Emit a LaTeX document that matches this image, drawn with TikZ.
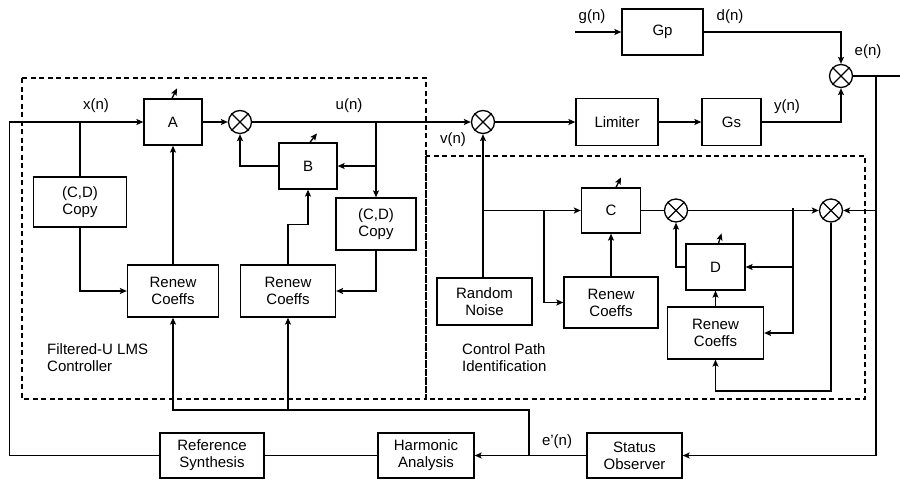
\documentclass[tikz,border=0pt]{standalone}
\usepackage{fontspec}
\setmainfont{Liberation Sans}
\usetikzlibrary{arrows.meta,calc}
\begin{document}
\begin{tikzpicture}[x=1pt,y=-1pt,
  every node/.style={font=\fontsize{15}{17}\selectfont},
  blk/.style={draw,line width=1.3pt,rectangle,align=center,inner sep=0pt},
  summ/.style={draw,line width=1.3pt,circle,minimum size=23pt,inner sep=0pt},
  wire/.style={line width=1.3pt},
  arr/.style={wire,-{Stealth[length=7pt,width=6pt,inset=1.5pt]}},
  dbox/.style={line width=1.6pt,dash pattern=on 5pt off 3.5pt},
  lbl/.style={inner sep=0pt}]
\useasboundingbox (0,0) rectangle (900,480);

% dashed regions
\draw[dbox] (22,78) rectangle (426,399);
\draw[dbox] (426,156) rectangle (865,399);

% blocks
\node[blk,minimum width=58pt,minimum height=46pt] (A) at (173,122) {A};
\node[blk,minimum width=58pt,minimum height=46pt] (B) at (308,166) {B};
\node[blk,minimum width=80pt,minimum height=52pt] (copyR) at (376,224) {(C,D)\\Copy};
\node[blk,minimum width=93pt,minimum height=50pt] (copyL) at (80,202) {(C,D)\\Copy};
\node[blk,minimum width=91pt,minimum height=52pt] (ren1) at (173,291) {Renew\\Coeffs};
\node[blk,minimum width=95pt,minimum height=52pt] (ren2) at (288,291) {Renew\\Coeffs};
\node[blk,minimum width=104pt,minimum height=45pt] (refsyn) at (212,455.5) {Reference\\Synthesis};
\node[blk,minimum width=96pt,minimum height=45pt] (harm) at (426,455.5) {Harmonic\\Analysis};
\node[blk,minimum width=95pt,minimum height=45pt] (status) at (634.5,455.5) {Status\\Observer};
\node[blk,minimum width=81pt,minimum height=46pt] (gp) at (662.5,32) {Gp};
\node[blk,minimum width=82pt,minimum height=47pt] (limiter) at (617,122) {Limiter};
\node[blk,minimum width=59pt,minimum height=47pt] (gs) at (731.5,122) {Gs};
\node[blk,minimum width=95pt,minimum height=47pt] (noise) at (484.5,301.5) {Random\\Noise};
\node[blk,minimum width=59pt,minimum height=45pt] (C) at (611,210.5) {C};
\node[blk,minimum width=94pt,minimum height=51pt] (ren3) at (611,302.5) {Renew\\Coeffs};
\node[blk,minimum width=59pt,minimum height=46pt] (D) at (715.5,267) {D};
\node[blk,minimum width=96pt,minimum height=52pt] (ren4) at (715.5,333) {Renew\\Coeffs};

% summing junctions
\node[summ] (s1) at (240,122) {};
\node[summ] (sv) at (483,122) {};
\node[summ] (se) at (841,76) {};
\node[summ] (s3) at (676,210.5) {};
\node[summ] (s4) at (831,210.5) {};
\foreach \s in {s1,sv,se,s3,s4}{
  \draw[wire] (\s.north east) -- (\s.south west) (\s.north west) -- (\s.south east);
}

% coordinates for branch points / free ends
\coordinate (ub) at (376,122);
\coordinate (fb) at (529,410);
\coordinate (eb) at (529,455.5);
\coordinate (gin) at (575,32);
\coordinate (eout) at (900,76);
\coordinate (er) at (876,76);
\coordinate (nb) at (483,210.5);
\coordinate (cb) at (544,210.5);
\coordinate (db) at (793,208);

% Filtered-U controller
\draw[arr] (refsyn.west) -- ++(-150,0) |- (A.west);
\draw[wire] (copyL.north) -- (copyL.north |- A.west);
\draw[arr] (copyL.south) |- (ren1.west);
\draw[arr] (ren1.north) -- (A.south);
\draw[arr] (A.east) -- (s1.west);
\draw[arr] (s1.east) -- (sv.west);
\draw[arr] (ub) -- (copyR.north);
\draw[arr] (ub |- B.east) -- (B.east);
\draw[arr] (B.west) -| (s1.south);
\draw[arr] (copyR.south) |- (ren2.east);
\draw[arr] (ren2.north) -- ++(0,-40) -| (B.south);
\draw[arr] (eb) -- (fb) -| (ren1.south);
\draw[arr] (ren2.south |- fb) -- (ren2.south);

% bottom chain
\draw[arr] (status.west) -- (harm.east);
\draw[wire] (harm.west) -- (refsyn.east);

% plant
\draw[arr] (gin) -- (gp.west);
\draw[arr] (gp.east) -| (se.north);
\draw[arr] (sv.east) -- (limiter.west);
\draw[arr] (limiter.east) -- (gs.west);
\draw[arr] (gs.east) -| (se.south);
\draw[wire] (se.east) -- (eout);
\draw[arr] (er) |- (status.east);
\draw[arr] (er |- s4.east) -- (s4.east);

% control path identification
\draw[arr] (sv.south |- noise.north) -- (sv.south);
\draw[arr] (nb) -- (C.west);
\draw[arr] (cb) |- (ren3.west);
\draw[arr] (ren3.north) -- (C.south);
\draw[wire] (C.east) -- (s3.west);
\draw[arr] (s3.east) -- (s4.west);
\draw[arr] (db |- D.east) -- (D.east);
\draw[arr] (db) |- (ren4.east);
\draw[arr] (D.west) -| (s3.south);
\draw[arr] (ren4.north) -- (D.south);
\draw[arr] (s4.south) |- (ren4.south |- 0,391) -- (ren4.south);

% adjustable arrows
\draw[arr] ([xshift=-1pt]A.north) -- ++(5,-10);
\draw[arr] ([xshift=2pt]B.north) -- ++(7,-9);
\draw[arr] ([xshift=5pt]C.north) -- ++(5,-10);
\draw[arr] ([xshift=3pt]D.north) -- ++(3,-10);

% signal labels
\node[lbl] at (96,106) {x(n)};
\node[lbl] at (349,106) {u(n)};
\node[lbl] at (453,140) {v(n)};
\node[lbl] at (592,17) {g(n)};
\node[lbl] at (730,17) {d(n)};
\node[lbl] at (868,52) {e(n)};
\node[lbl] at (787,107) {y(n)};
\node[lbl] at (557,442) {e'(n)};

% region labels
\node[lbl,anchor=west,align=left] at (47,358) {Filtered-U LMS\\Controller};
\node[lbl,anchor=west,align=left] at (462,358) {Control Path\\Identification};
\end{tikzpicture}
\end{document}
